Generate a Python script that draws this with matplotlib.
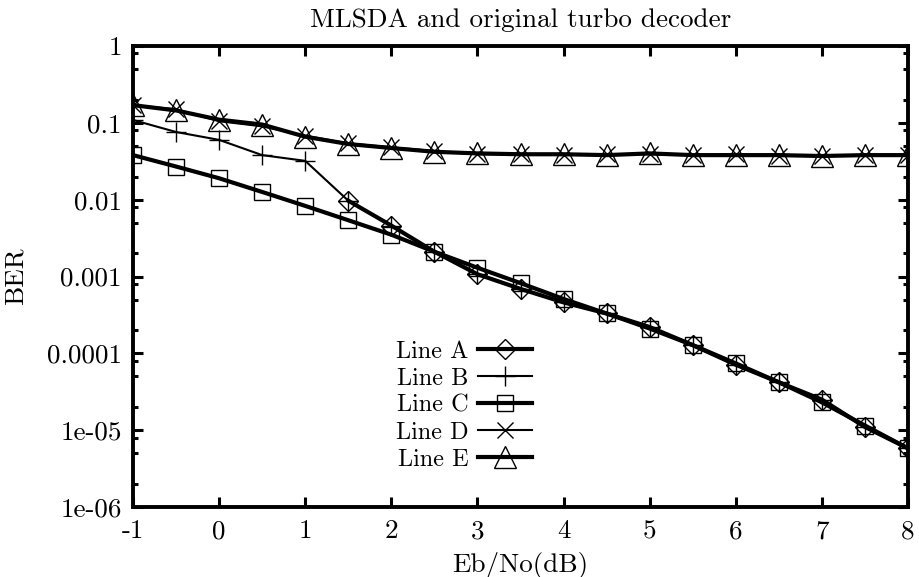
import matplotlib
matplotlib.use("Agg")
import matplotlib.pyplot as plt
from matplotlib.ticker import LogLocator, FixedLocator, FixedFormatter, NullFormatter

plt.rcParams['font.family'] = ['cmr10', 'DejaVu Serif']
plt.rcParams['axes.formatter.use_mathtext'] = True

snr = [-1, -0.5, 0, 0.5, 1, 1.5, 2, 2.5, 3, 3.5, 4, 4.5, 5, 5.5, 6, 6.5, 7, 7.5, 8]

snr_a = [1.5, 2, 2.5, 3, 3.5, 4, 4.5, 5, 5.5, 6, 6.5, 7, 7.5, 8]
ber_a = [0.0097, 0.0046, 0.0021, 0.00107, 0.00069, 0.00046, 0.00033, 0.00022,
         0.000128, 7.1e-5, 4.2e-5, 2.5e-5, 1.1e-5, 5.8e-6]

ber_b = [0.109, 0.076, 0.060, 0.038, 0.032, 0.0097, 0.0046, 0.0021, 0.00107,
         0.00069, 0.00046, 0.00033, 0.00022, 0.000128, 7.1e-5, 4.2e-5, 2.5e-5,
         1.1e-5, 5.8e-6]

ber_c = [0.038, 0.027, 0.019, 0.0126, 0.0083, 0.0054, 0.0035, 0.0021, 0.0013,
         0.00082, 0.00051, 0.00033, 0.00021, 0.000128, 7.4e-5, 4.2e-5, 2.3e-5,
         1.15e-5, 5.8e-6]

ber_d = [0.17, 0.15, 0.105, 0.090, 0.068, 0.054, 0.048, 0.043, 0.039, 0.039,
         0.038, 0.039, 0.039, 0.038, 0.039, 0.037, 0.037, 0.038, 0.038]

ber_e = [0.17, 0.145, 0.110, 0.095, 0.066, 0.053, 0.047, 0.042, 0.040, 0.039,
         0.039, 0.038, 0.040, 0.038, 0.038, 0.038, 0.037, 0.038, 0.038]

labels = ['Line A', 'Line B', 'Line C', 'Line D', 'Line E']
xticks = [-1, 0, 1, 2, 3, 4, 5, 6, 7, 8]
xtick_labels = ['-1', '0', '1', '2', '3', '4', '5', '6', '7', '8']
yticks = [1e-6, 1e-5, 1e-4, 1e-3, 1e-2, 1e-1, 1]
ytick_labels = ['1e-06', '1e-05', '0.0001', '0.001', '0.01', '0.1', '1']

fig = plt.figure(figsize=(9.2, 5.77), dpi=100)
ax = fig.add_axes([133/920, 1-507/577, (908-133)/920, (507-46)/577])

thick = 3.0
thin = 1.5
mew = 1.0
ax.plot(snr_a, ber_a, color='black', lw=thick, marker='D', ms=10, mfc='none', mew=mew, label=labels[0], zorder=3)
ax.plot(snr, ber_b, color='black', lw=thin, marker='+', ms=15, mew=mew, label=labels[1], zorder=2)
ax.plot(snr, ber_c, color='black', lw=thick, marker='s', ms=12, mfc='none', mew=mew, label=labels[2], zorder=3)
ax.plot(snr, ber_d, color='black', lw=thin, marker='x', ms=11, mew=mew, label=labels[3], zorder=2)
ax.plot(snr, ber_e, color='black', lw=thick, marker='^', ms=16, mfc='none', mew=mew, label=labels[4], zorder=3)

ax.set_yscale('log')
ax.set_xlim(-1, 8)
ax.set_ylim(1e-6, 1)
ax.xaxis.set_major_locator(FixedLocator(xticks))
ax.xaxis.set_major_formatter(FixedFormatter(xtick_labels))
ax.yaxis.set_major_locator(FixedLocator(yticks))
ax.yaxis.set_major_formatter(FixedFormatter(ytick_labels))
ax.yaxis.set_minor_locator(LogLocator(base=10, subs=[2, 5, 8]))
ax.yaxis.set_minor_formatter(NullFormatter())

for s in ax.spines.values():
    s.set_linewidth(2.8)
fs = 19.5
ax.tick_params(which='major', direction='in', length=7, width=2.2, top=True, right=True, labelsize=fs, pad=8)
ax.tick_params(which='minor', direction='in', length=3.5, width=2.2, top=False, right=True)
ax.tick_params(axis='x', which='major', pad=9)

ax.set_title('MLSDA and original turbo decoder', fontsize=fs, pad=14)
ax.set_xlabel('Eb/No(dB)', fontsize=fs, labelpad=6)
ax.set_ylabel('BER', fontsize=fs, labelpad=14)

leg = ax.legend(loc='center right', bbox_to_anchor=(0.53, 0.22), frameon=False,
                markerfirst=False, fontsize=17.5, handlelength=2.2, labelspacing=0.2,
                handletextpad=0.4, borderpad=0)

fig.savefig('out.png', dpi=100)
